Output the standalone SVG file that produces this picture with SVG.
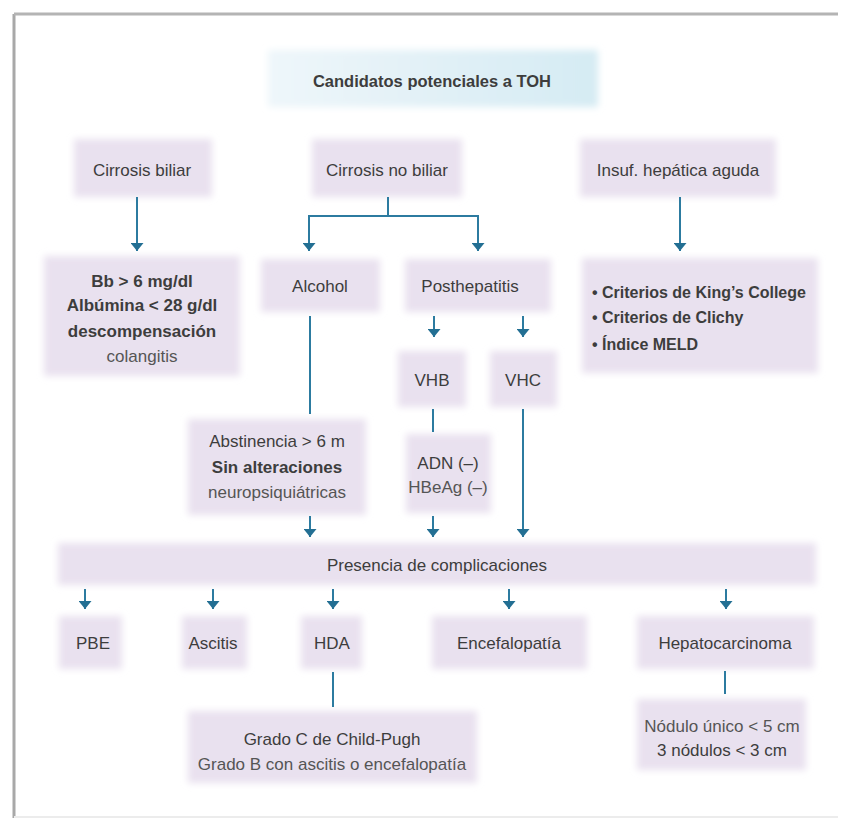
<svg xmlns="http://www.w3.org/2000/svg" width="848" height="819" viewBox="0 0 848 819">
<style>
.t{font-family:"Liberation Sans","Noto Sans",sans-serif;font-size:17px;fill:#3d3d3d;text-anchor:middle}
.b{font-weight:bold;font-size:16.5px}
.s{font-weight:bold}
.k{font-size:16px;text-anchor:start}
.l{fill:#555}
.box{fill:#e9e1ef;filter:url(#soft)}
.c{stroke:#2c7ba0;stroke-width:2;fill:none}
.ah{fill:#236f93}
</style>
<defs>
<filter id="soft" x="-20%" y="-40%" width="140%" height="180%"><feGaussianBlur stdDeviation="3.5"/></filter>
<linearGradient id="tg" x1="0" y1="0" x2="1" y2="0"><stop offset="0" stop-color="#eef6fa"/><stop offset="1" stop-color="#d5ebf3"/></linearGradient>
<marker id="ar" markerWidth="9" markerHeight="13" refX="8" refY="6.5" orient="auto" markerUnits="userSpaceOnUse" viewBox="0 0 9 13"><path d="M0,0 L8,6.5 L0,13 Z" class="ah"/></marker>
</defs>
<rect width="848" height="819" fill="#ffffff"/>
<g id="frame">
<line x1="14" y1="14" x2="14" y2="818" stroke="#a8a8a8" stroke-width="3"/>
<line x1="14" y1="14" x2="838" y2="14" stroke="#b4b4b4" stroke-width="3"/>
<line x1="14" y1="817" x2="838" y2="817" stroke="#ececec" stroke-width="2"/>
</g>
<g id="title"><rect x="268" y="50" width="330" height="57" fill="url(#tg)" filter="url(#soft)"/><text class="t b" x="432" y="87">Candidatos potenciales a TOH</text></g>
<g id="n-cb"><rect class="box" x="74" y="139" width="138" height="58"/><text class="t" x="142" y="176">Cirrosis biliar</text></g>
<g id="n-cnb"><rect class="box" x="312" y="139" width="150" height="58"/><text class="t" x="387" y="176">Cirrosis no biliar</text></g>
<g id="n-iha"><rect class="box" x="580" y="139" width="196" height="58"/><text class="t" x="678" y="176">Insuf. hepática aguda</text></g>
<g id="n-bb"><rect class="box" x="44" y="256" width="196" height="120"/>
<text class="t s" x="142" y="287">Bb &gt; 6 mg/dl</text>
<text class="t s" x="142" y="311">Albúmina &lt; 28 g/dl</text>
<text class="t s" x="142" y="337">descompensación</text>
<text class="t l" x="142" y="362">colangitis</text></g>
<g id="n-alc"><rect class="box" x="261" y="259" width="119" height="53"/><text class="t" x="320" y="292">Alcohol</text></g>
<g id="n-ph"><rect class="box" x="405" y="259" width="146" height="53"/><text class="t" x="470" y="292">Posthepatitis</text></g>
<g id="n-crit"><rect class="box" x="582" y="258" width="236" height="115"/>
<text class="t s k" x="592" y="298">• Criterios de King’s College</text>
<text class="t s k" x="592" y="323">• Criterios de Clichy</text>
<text class="t s k" x="592" y="350">• Índice MELD</text></g>
<g id="n-vhb"><rect class="box" x="398" y="351" width="68" height="56"/><text class="t" x="432" y="386">VHB</text></g>
<g id="n-vhc"><rect class="box" x="490" y="351" width="67" height="56"/><text class="t" x="523" y="386">VHC</text></g>
<g id="n-abs"><rect class="box" x="188" y="419" width="178" height="96"/>
<text class="t" x="277" y="447">Abstinencia &gt; 6 m</text>
<text class="t s" x="277" y="473">Sin alteraciones</text>
<text class="t l" x="277" y="498">neuropsiquiátricas</text></g>
<g id="n-adn"><rect class="box" x="406" y="434" width="85" height="79"/>
<text class="t" x="448" y="469">ADN (–)</text>
<text class="t l" x="448" y="493">HBeAg (–)</text></g>
<g id="n-pres"><rect class="box" x="58" y="543" width="758" height="42"/><text class="t" x="437" y="571">Presencia de complicaciones</text></g>
<g id="n-pbe"><rect class="box" x="59" y="616" width="63" height="53"/><text class="t" x="93" y="649">PBE</text></g>
<g id="n-asc"><rect class="box" x="182" y="616" width="65" height="53"/><text class="t" x="213" y="649">Ascitis</text></g>
<g id="n-hda"><rect class="box" x="301" y="616" width="61" height="53"/><text class="t" x="332" y="649">HDA</text></g>
<g id="n-enc"><rect class="box" x="432" y="616" width="155" height="53"/><text class="t" x="509" y="649">Encefalopatía</text></g>
<g id="n-hep"><rect class="box" x="637" y="616" width="177" height="53"/><text class="t" x="725" y="649">Hepatocarcinoma</text></g>
<g id="n-gra"><rect class="box" x="188" y="711" width="289" height="72"/>
<text class="t" x="332" y="745">Grado C de Child-Pugh</text>
<text class="t l" x="332" y="770">Grado B con ascitis o encefalopatía</text></g>
<g id="n-nod"><rect class="box" x="637" y="699" width="169" height="71"/>
<text class="t l" x="722" y="732">Nódulo único &lt; 5 cm</text>
<text class="t" x="722" y="756">3 nódulos &lt; 3 cm</text></g>
<g id="connectors">
<path class="c" d="M137,197 V251" marker-end="url(#ar)"/>
<path class="c" d="M388,197 V216 M309,216 H478"/>
<path class="c" d="M309,215 V251" marker-end="url(#ar)"/>
<path class="c" d="M478,215 V251" marker-end="url(#ar)"/>
<path class="c" d="M680,197 V251" marker-end="url(#ar)"/>
<path class="c" d="M310,316 V414"/>
<path class="c" d="M434,316 V337" marker-end="url(#ar)"/>
<path class="c" d="M523,316 V337" marker-end="url(#ar)"/>
<path class="c" d="M433,409 V432"/>
<path class="c" d="M523,409 V537" marker-end="url(#ar)"/>
<path class="c" d="M310,516 V537" marker-end="url(#ar)"/>
<path class="c" d="M433,516 V537" marker-end="url(#ar)"/>
<path class="c" d="M85,589 V609" marker-end="url(#ar)"/>
<path class="c" d="M213,589 V609" marker-end="url(#ar)"/>
<path class="c" d="M333,589 V609" marker-end="url(#ar)"/>
<path class="c" d="M509,589 V609" marker-end="url(#ar)"/>
<path class="c" d="M726,589 V609" marker-end="url(#ar)"/>
<path class="c" d="M333,672 V707"/>
<path class="c" d="M725,671 V694"/>
</g>
</svg>
